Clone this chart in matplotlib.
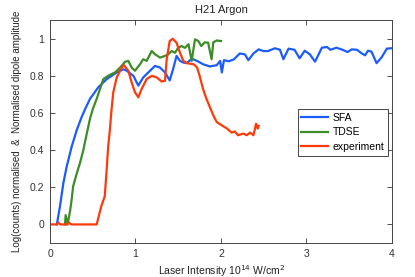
import matplotlib
matplotlib.use("Agg")
import matplotlib.pyplot as plt

plt.rcParams['font.family'] = ['Liberation Sans', 'DejaVu Sans']

title = "H21 Argon"
xlabel = r"Laser Intensity 10$^{14}$ W/cm$^{2}$"
ylabel = "Log(counts) normalised  &  Normalised dipole amplitude"
series_names = ["SFA", "TDSE", "experiment"]
xticks = [0, 1, 2, 3, 4]
yticks = [0, 0.2, 0.4, 0.6, 0.8, 1]
ytick_labels = ["0", "0.2", "0.4", "0.6", "0.8", "1"]

sfa_x = [0.08, 0.117, 0.156, 0.195, 0.253, 0.312, 0.37, 0.42, 0.468, 0.565, 0.663, 0.78, 0.86, 0.897,
         0.975, 1.033, 1.09, 1.17, 1.228, 1.287, 1.345, 1.40, 1.44, 1.48, 1.52, 1.56, 1.6, 1.657, 1.72,
         1.79, 1.87, 1.95, 1.99, 2.01, 2.035, 2.09, 2.15, 2.22, 2.28, 2.32, 2.38, 2.44, 2.495, 2.55, 2.63,
         2.69, 2.73, 2.79, 2.86, 2.92, 2.98, 3.04, 3.10, 3.18, 3.24, 3.28, 3.35, 3.41, 3.48, 3.53, 3.59,
         3.645, 3.685, 3.72, 3.76, 3.82, 3.88, 3.94, 3.99]
sfa_y = [0, 0.098, 0.222, 0.311, 0.418, 0.507, 0.578, 0.63, 0.676, 0.738, 0.782, 0.818, 0.835, 0.827,
         0.8, 0.747, 0.791, 0.827, 0.853, 0.844, 0.818, 0.775, 0.836, 0.907, 0.88, 0.871, 0.868, 0.892, 0.88,
         0.862, 0.85, 0.857, 0.88, 0.818, 0.884, 0.878, 0.888, 0.92, 0.915, 0.884, 0.92, 0.942, 0.933, 0.933,
         0.948, 0.94, 0.889, 0.946, 0.94, 0.894, 0.935, 0.915, 0.876, 0.951, 0.955, 0.94, 0.951, 0.942, 0.928,
         0.942, 0.94, 0.921, 0.91, 0.935, 0.93, 0.868, 0.9, 0.946, 0.948]

tdse_x = [0.175, 0.183, 0.205, 0.234, 0.253, 0.27, 0.31, 0.35, 0.39, 0.43, 0.468, 0.5, 0.546, 0.585,
          0.624, 0.68, 0.76, 0.82, 0.877, 0.916, 0.955, 0.994, 1.053, 1.09, 1.13, 1.19, 1.228, 1.287,
          1.345, 1.384, 1.423, 1.462, 1.50, 1.54, 1.578, 1.62, 1.657, 1.696, 1.735, 1.77, 1.81, 1.85,
          1.89, 1.91, 1.95, 2.0]
tdse_y = [0, 0.05, 0.0, 0.07, 0.133, 0.204, 0.27, 0.33, 0.4, 0.489, 0.569, 0.62, 0.676, 0.729,
          0.782, 0.8, 0.818, 0.844, 0.875, 0.88, 0.844, 0.827, 0.862, 0.889, 0.88, 0.933, 0.916, 0.898,
          0.907, 0.916, 0.933, 0.924, 0.951, 0.96, 0.95, 0.97, 0.88, 0.996, 0.987, 0.96, 0.98, 0.978,
          0.889, 0.98, 0.99, 0.987]

exp_x = [0, 0.08, 0.1, 0.12, 0.2, 0.22, 0.25, 0.35, 0.546, 0.6, 0.64, 0.66, 0.68, 0.70, 0.72, 0.74,
         0.78, 0.838, 0.865, 0.916, 0.955, 0.994, 1.033, 1.072, 1.13, 1.19, 1.248, 1.306, 1.345, 1.365,
         1.40, 1.435, 1.48, 1.52, 1.56, 1.6, 1.68, 1.72, 1.75, 1.79, 1.83, 1.87, 1.91, 1.95, 2.01, 2.07,
         2.125, 2.16, 2.2, 2.26, 2.3, 2.34, 2.38, 2.41, 2.43, 2.44]
exp_y = [0, 0, 0.01, 0, 0, 0.01, 0, 0, 0, 0.098, 0.151, 0.276, 0.418, 0.507, 0.62, 0.711,
         0.791, 0.844, 0.857, 0.827, 0.764, 0.711, 0.684, 0.729, 0.782, 0.8, 0.791, 0.769, 0.773, 0.889,
         0.987, 0.999, 0.978, 0.924, 0.88, 0.868, 0.862, 0.845, 0.8, 0.729, 0.676, 0.631, 0.587, 0.551,
         0.533, 0.516, 0.494, 0.5, 0.48, 0.489, 0.48, 0.494, 0.48, 0.542, 0.516, 0.53]

colors = ["#1a5cff", "#3c8c28", "#ff3a0a"]

fig = plt.figure(figsize=(4.15, 2.77), dpi=100)
ax = fig.add_axes([0.1205, 0.1227, 0.824, 0.805])

for (xs, ys), name, c in zip([(sfa_x, sfa_y), (tdse_x, tdse_y), (exp_x, exp_y)], series_names, colors):
    ax.plot(xs, ys, color=c, lw=1.6, label=name)

ax.set_xlim(0, 4)
ax.set_ylim(-0.1, 1.1)
ax.set_xticks(xticks)
ax.set_xticklabels([str(t) for t in xticks])
ax.set_yticks(yticks)
ax.set_yticklabels(ytick_labels)
ax.tick_params(direction='in', top=True, right=True, length=3.5, width=0.6,
               labelsize=7.5, colors='#333333', pad=4)
for s in ax.spines.values():
    s.set_color('#444444')
    s.set_linewidth(0.7)

ax.set_title(title, fontsize=8, color='#222222', pad=5)
ax.set_xlabel(xlabel, fontsize=7.5, color='#222222', labelpad=3)
ax.set_ylabel(ylabel, fontsize=7, color='#222222', labelpad=6)

leg = ax.legend(loc='upper right', bbox_to_anchor=(0.988, 0.601), borderaxespad=0,
                fontsize=7.5, fancybox=False, framealpha=1, edgecolor='#444444',
                handlelength=2.6, handletextpad=0.4, borderpad=0.35, labelspacing=0.45)
leg.get_frame().set_linewidth(0.7)

fig.savefig("out.png", dpi=100)
